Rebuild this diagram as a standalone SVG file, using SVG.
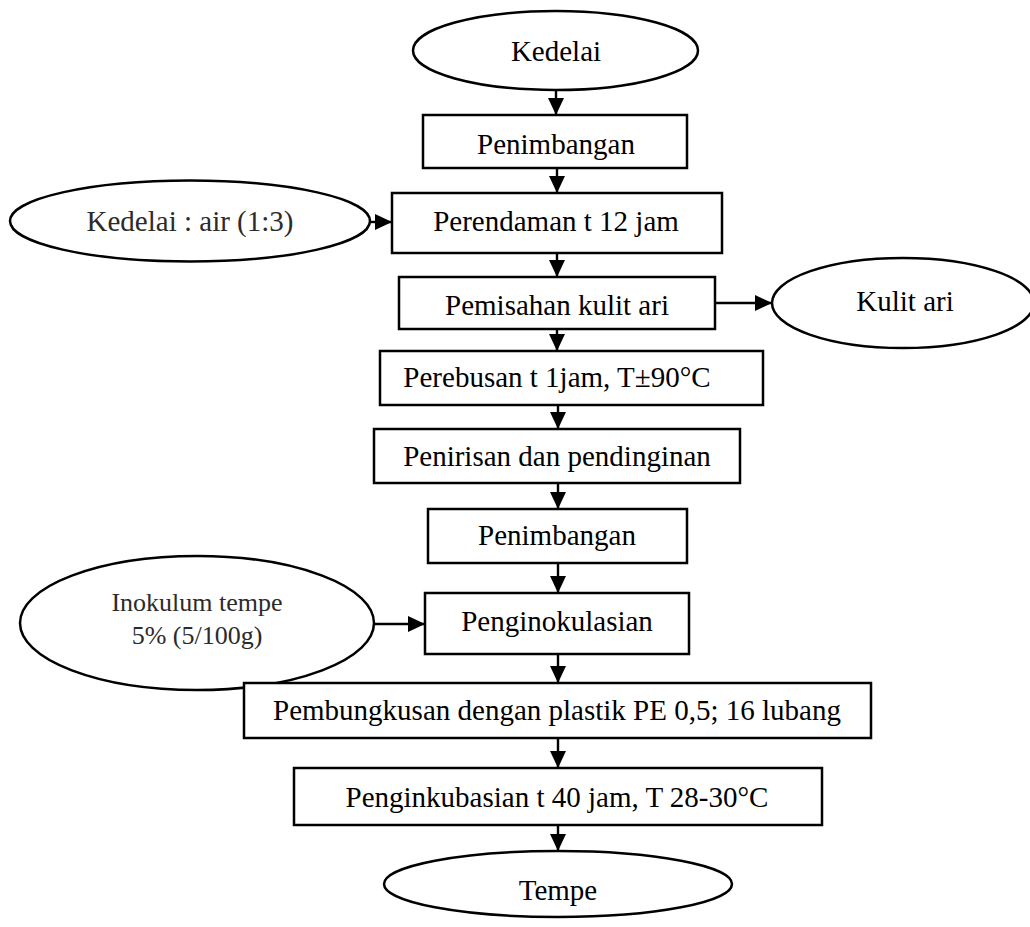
<svg xmlns="http://www.w3.org/2000/svg" width="1030" height="927" viewBox="0 0 1030 927">
  <style>
    .box { fill: #ffffff; stroke: #000000; stroke-width: 2.5; }
    .term { fill: #ffffff; stroke: #000000; stroke-width: 2.5; }
    .lbl { font-family: "Liberation Serif", "Times New Roman", serif; font-size: 29px; fill: #000000; text-anchor: middle; }
    .side { fill: #2b2b2b; }
    .small { font-size: 26px; }
    .edge { fill: none; stroke: #000000; stroke-width: 2.4; marker-end: url(#head); }
  </style>
  <defs>
    <marker id="head" markerUnits="userSpaceOnUse" markerWidth="18" markerHeight="17" refX="17" refY="8" orient="auto">
      <path d="M0,0 L17,8 L0,16 z" fill="#000000"/>
    </marker>
  </defs>
  <rect width="1030" height="927" fill="#ffffff"/>

  <!-- process flow connectors -->
  <g id="connectors">
    <line class="edge" x1="556" y1="90" x2="556" y2="115"/>
    <line class="edge" x1="557" y1="168" x2="557" y2="193"/>
    <line class="edge" x1="557" y1="253" x2="557" y2="277"/>
    <line class="edge" x1="557" y1="329" x2="557" y2="351"/>
    <line class="edge" x1="558" y1="405" x2="558" y2="429"/>
    <line class="edge" x1="558" y1="483" x2="558" y2="509"/>
    <line class="edge" x1="558" y1="563" x2="558" y2="593"/>
    <line class="edge" x1="558" y1="654" x2="558" y2="683"/>
    <line class="edge" x1="558" y1="738" x2="558" y2="768"/>
    <line class="edge" x1="558" y1="825" x2="558" y2="851"/>
    <line class="edge" x1="370" y1="222" x2="392" y2="222"/>
    <line class="edge" x1="715" y1="303" x2="772" y2="303"/>
    <line class="edge" x1="374" y1="624" x2="425" y2="624"/>
  </g>

  <g id="kedelai">
    <ellipse class="term" cx="555.5" cy="50.5" rx="142.5" ry="39.5"/>
    <text class="lbl" x="556" y="61">Kedelai</text>
  </g>

  <g id="penimbangan-1">
    <rect class="box" x="423" y="115" width="264" height="53"/>
    <text class="lbl" x="556" y="154">Penimbangan</text>
  </g>

  <g id="kedelai-air">
    <ellipse class="term" cx="190" cy="221" rx="180" ry="40.5"/>
    <text class="lbl side" x="190" y="231">Kedelai : air (1:3)</text>
  </g>

  <g id="perendaman">
    <rect class="box" x="392" y="193" width="330" height="60"/>
    <text class="lbl" x="556" y="231">Perendaman t 12 jam</text>
  </g>

  <g id="pemisahan">
    <rect class="box" x="399" y="277" width="316" height="52"/>
    <text class="lbl" x="557" y="315">Pemisahan kulit ari</text>
  </g>

  <g id="kulit-ari">
    <ellipse class="term" cx="903" cy="303" rx="131" ry="45"/>
    <text class="lbl" x="905" y="311">Kulit ari</text>
  </g>

  <g id="perebusan">
    <rect class="box" x="380" y="351" width="383" height="54"/>
    <text class="lbl" x="557" y="387">Perebusan t 1jam, T±90°C</text>
  </g>

  <g id="penirisan">
    <rect class="box" x="374" y="429" width="366" height="54"/>
    <text class="lbl" x="557" y="466">Penirisan dan pendinginan</text>
  </g>

  <g id="penimbangan-2">
    <rect class="box" x="428" y="509" width="259" height="54"/>
    <text class="lbl" x="557" y="545">Penimbangan</text>
  </g>

  <g id="inokulum">
    <ellipse class="term" cx="197" cy="623" rx="177" ry="67"/>
    <text class="lbl side small" x="197" y="611">Inokulum tempe</text>
    <text class="lbl side small" x="197" y="644">5% (5/100g)</text>
  </g>

  <g id="penginokulasian">
    <rect class="box" x="425" y="593" width="264" height="61"/>
    <text class="lbl" x="557" y="631">Penginokulasian</text>
  </g>

  <g id="pembungkusan">
    <rect class="box" x="244" y="683" width="627" height="55"/>
    <text class="lbl" x="557" y="720">Pembungkusan dengan plastik PE 0,5; 16 lubang</text>
  </g>

  <g id="penginkubasian">
    <rect class="box" x="294" y="768" width="528" height="57"/>
    <text class="lbl" x="557" y="807">Penginkubasian t 40 jam, T 28-30°C</text>
  </g>

  <g id="tempe">
    <ellipse class="term" cx="558" cy="884" rx="174" ry="33"/>
    <text class="lbl" x="558" y="900">Tempe</text>
  </g>
</svg>
